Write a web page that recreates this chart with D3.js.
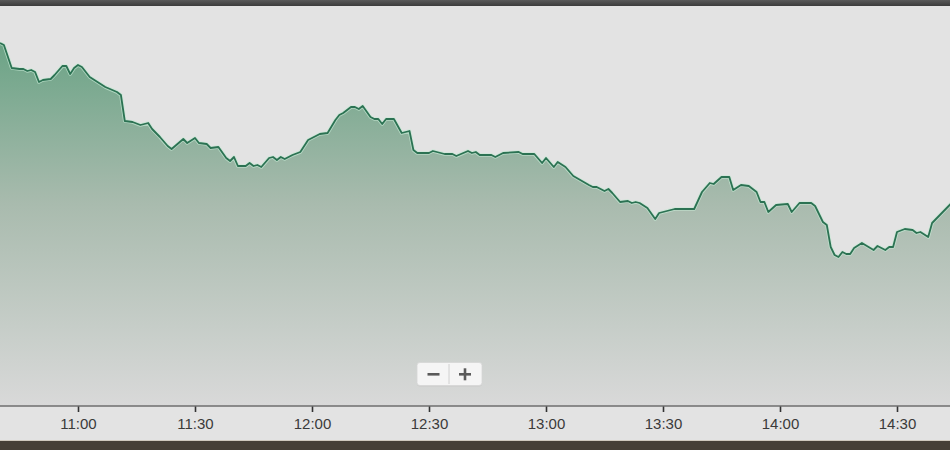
<!DOCTYPE html>
<html><head><meta charset="utf-8">
<script src="https://cdn.jsdelivr.net/npm/d3@7/dist/d3.min.js"></script>
<style>html,body{margin:0;padding:0;background:#e3e3e3;overflow:hidden}</style>
</head><body>
<svg id="chart" width="950" height="450"></svg>
<script>
const times = ["10:40","10:41","10:43","10:45","10:46","10:47","10:48","10:49","10:50","10:51","10:53","10:54","10:56","10:57","10:58","10:59","11:00","11:01","11:03","11:05","11:07","11:10","11:11","11:12","11:14","11:16","11:18","11:19","11:21","11:23","11:24","11:27","11:28","11:30","11:31","11:33","11:34","11:36","11:38","11:39","11:40","11:41","11:43","11:44","11:45","11:46","11:47","11:49","11:50","11:51","11:52","11:53","11:55","11:57","11:59","12:00","12:02","12:04","12:06","12:07","12:08","12:10","12:11","12:12","12:13","12:15","12:16","12:17","12:18","12:19","12:21","12:23","12:25","12:26","12:27","12:30","12:31","12:34","12:36","12:37","12:40","12:41","12:42","12:43","12:46","12:47","12:49","12:53","12:54","12:57","12:59","13:00","13:02","13:03","13:05","13:07","13:11","13:12","13:13","13:15","13:16","13:17","13:19","13:21","13:22","13:23","13:24","13:26","13:28","13:29","13:33","13:34","13:38","13:40","13:42","13:43","13:45","13:47","13:48","13:50","13:52","13:54","13:55","13:56","13:57","13:59","14:02","14:03","14:05","14:06","14:08","14:09","14:11","14:12","14:13","14:14","14:15","14:16","14:17","14:18","14:19","14:21","14:24","14:25","14:27","14:28","14:29","14:30","14:32","14:34","14:35","14:36","14:38","14:39","14:41","14:43","14:44"];
const prices = [61.63,61.61,61.38,61.37,61.37,61.35,61.36,61.34,61.24,61.26,61.27,61.31,61.40,61.40,61.32,61.38,61.41,61.39,61.29,61.24,61.19,61.14,61.11,60.85,60.84,60.81,60.83,60.77,60.69,60.60,60.57,60.67,60.63,60.68,60.63,60.62,60.58,60.59,60.48,60.45,60.49,60.40,60.40,60.43,60.40,60.41,60.39,60.48,60.49,60.46,60.49,60.47,60.51,60.54,60.66,60.68,60.72,60.73,60.86,60.91,60.93,60.99,60.99,60.97,61.00,60.89,60.87,60.87,60.82,60.87,60.87,60.73,60.75,60.56,60.53,60.53,60.55,60.52,60.52,60.50,60.55,60.53,60.54,60.51,60.51,60.49,60.53,60.54,60.52,60.52,60.43,60.48,60.39,60.44,60.39,60.30,60.21,60.19,60.19,60.15,60.17,60.13,60.04,60.05,60.03,60.04,60.03,59.98,59.87,59.93,59.97,59.97,59.97,60.14,60.23,60.22,60.29,60.29,60.16,60.21,60.20,60.14,60.04,60.04,59.94,60.01,60.02,59.94,60.03,60.03,60.03,60.00,59.84,59.81,59.59,59.51,59.49,59.54,59.52,59.52,59.58,59.63,59.56,59.60,59.56,59.59,59.59,59.74,59.77,59.76,59.73,59.74,59.69,59.83,59.91,59.99,60.03];
const tickLabels = ["11:00","11:30","12:00","12:30","13:00","13:30","14:00","14:30"];
const xDomain = ["10:40","14:50"];
const yDomain = [58, 62];

const parse = d3.timeParse("%H:%M");
const data = times.map((t,i)=>({t:parse(t), v:prices[i]}));

const W = 950, H = 450, axisY = 406, topY = 6;
const svg = d3.select("#chart");

const x = d3.scaleTime().domain(xDomain.map(parse)).range([0, 975]);
const y = d3.scaleLinear().domain(yDomain).range([axisY, topY]);

svg.append("rect").attr("x",0).attr("y",0).attr("width",W).attr("height",H).attr("fill","#e3e3e3");

const defs = svg.append("defs");
const g = defs.append("linearGradient").attr("id","areaGrad")
  .attr("gradientUnits","userSpaceOnUse").attr("x1",0).attr("x2",0).attr("y1",40).attr("y2",axisY);
g.append("stop").attr("offset","0").attr("stop-color","#6aa385");
g.append("stop").attr("offset","0.45").attr("stop-color","#a9bbae");
g.append("stop").attr("offset","1").attr("stop-color","#d9d9d9");

const tg = defs.append("linearGradient").attr("id","topGrad").attr("x1",0).attr("x2",0).attr("y1",0).attr("y2",1);
tg.append("stop").attr("offset","0").attr("stop-color","#5a5a5a");
tg.append("stop").attr("offset","1").attr("stop-color","#3c3c3c");

const area = d3.area().x(d=>x(d.t)).y0(axisY).y1(d=>y(d.v)).curve(d3.curveLinear);
const line = d3.line().x(d=>x(d.t)).y(d=>y(d.v)).curve(d3.curveLinear);

svg.append("path").datum(data).attr("d",area).attr("fill","url(#areaGrad)");
svg.append("path").datum(data).attr("d",line).attr("fill","none")
  .attr("stroke","#c4e8d3").attr("stroke-width",3.6).attr("stroke-opacity",0.7).attr("stroke-linejoin","round");
svg.append("path").datum(data).attr("d",line).attr("fill","none")
  .attr("stroke","#2c7253").attr("stroke-width",1.8).attr("stroke-linejoin","round");

const axis = d3.axisBottom(x)
  .tickValues(tickLabels.map(parse))
  .tickFormat(d3.timeFormat("%H:%M"))
  .tickSize(6).tickPadding(6);
const ax = svg.append("g").attr("transform",`translate(0,${axisY})`).call(axis);
ax.select(".domain").remove();
ax.selectAll(".tick line").attr("stroke","#333").attr("stroke-width",1.6);
ax.selectAll(".tick text").attr("fill","#3a3a3a").attr("font-family","Liberation Sans, Arial, sans-serif").attr("font-size",15);
svg.append("line").attr("x1",0).attr("x2",W).attr("y1",axisY).attr("y2",axisY)
  .attr("stroke","#6e6e6e").attr("stroke-width",1.6);

svg.append("rect").attr("x",0).attr("y",0).attr("width",W).attr("height",6).attr("fill","url(#topGrad)");
svg.append("rect").attr("x",0).attr("y",441).attr("width",W).attr("height",9).attr("fill","#463f37");
svg.append("rect").attr("x",0).attr("y",440).attr("width",W).attr("height",1).attr("fill","#cfc8bd");

const zb = svg.append("g");
zb.append("rect").attr("x",417).attr("y",363.5).attr("width",65).attr("height",23).attr("rx",3)
  .attr("fill","#c9c9c9");
zb.append("rect").attr("x",417).attr("y",362.5).attr("width",65).attr("height",23).attr("rx",3)
  .attr("fill","#f5f5f5").attr("stroke","#d6d6d6").attr("stroke-width",0.8);
zb.append("line").attr("x1",449).attr("x2",449).attr("y1",364).attr("y2",384).attr("stroke","#d0d0d0").attr("stroke-width",1);
zb.append("rect").attr("x",427.5).attr("y",373).attr("width",12).attr("height",2.6).attr("fill","#5a5a5a");
zb.append("rect").attr("x",459).attr("y",373).attr("width",12).attr("height",2.6).attr("fill","#5a5a5a");
zb.append("rect").attr("x",463.7).attr("y",368.3).attr("width",2.6).attr("height",12).attr("fill","#5a5a5a");
</script>
</body></html>
